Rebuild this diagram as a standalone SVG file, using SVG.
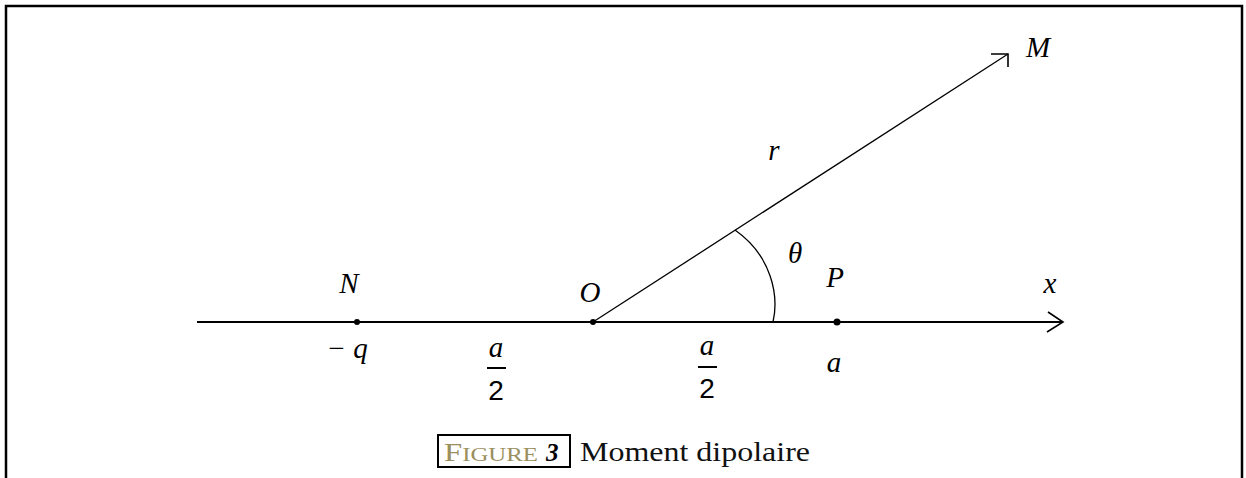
<svg xmlns="http://www.w3.org/2000/svg" width="1246" height="478" viewBox="0 0 1246 478">
<style>
.lbl{font-family:"Liberation Serif",serif;font-style:italic;font-size:29px;fill:#000;text-anchor:middle}
.num{font-family:"Liberation Sans",sans-serif;font-size:28px;fill:#000;text-anchor:middle}
.ln{stroke:#000;fill:none}
.cap{font-family:"Liberation Serif",serif;font-size:27px;fill:#111}
</style>
<rect x="0" y="0" width="1246" height="478" fill="#fff"/>
<path d="M6 480 V6 H1242 V480" class="ln" stroke-width="2.5"/>
<g id="connectors">
<line x1="197" y1="322" x2="1063" y2="322" class="ln" stroke-width="2"/>
<polyline points="1048,312 1063,322 1047,332" class="ln" stroke-width="1.6"/>
<line x1="593" y1="322" x2="1008" y2="54" class="ln" stroke-width="1.3"/>
<polyline points="991,54 1008,54 1008,67" class="ln" stroke-width="1.6"/>
<path d="M773 322 C779 296 772 256 735 230" class="ln" stroke-width="1.3"/>
</g>
<g id="N"><circle cx="357" cy="322" r="3"/><text x="349" y="293" class="lbl">N</text><text x="347" y="358" class="lbl">− q</text></g>
<g id="O"><circle cx="593" cy="322" r="3"/><text x="590" y="302" class="lbl">O</text></g>
<g id="P"><circle cx="837" cy="322" r="3.5"/><text x="835" y="287" class="lbl">P</text><text x="834" y="372" class="lbl">a</text></g>
<g id="M"><text x="1038" y="57" class="lbl">M</text></g>
<g id="r"><text x="774" y="160" class="lbl">r</text></g>
<g id="theta"><text x="795" y="263" class="lbl">θ</text></g>
<g id="x"><text x="1050" y="293" class="lbl">x</text></g>
<g id="half1"><text x="496" y="357" class="lbl" font-size="31">a</text><line x1="487" y1="368" x2="506" y2="368" class="ln" stroke-width="2"/><text x="496" y="400" class="num">2</text></g>
<g id="half2"><text x="707" y="355" class="lbl" font-size="31">a</text><line x1="698" y1="367" x2="717" y2="367" class="ln" stroke-width="2"/><text x="707" y="398" class="num">2</text></g>
<g id="caption">
<rect x="438" y="435" width="132" height="32" fill="none" stroke="#000" stroke-width="2"/>
<text x="444" y="461" font-family="'Liberation Serif',serif" fill="#9b8f5e" textLength="94" lengthAdjust="spacingAndGlyphs"><tspan font-size="25">F</tspan><tspan font-size="19">IGURE</tspan></text>
<text x="546" y="461" font-family="'Liberation Serif',serif" font-size="25" font-weight="bold" font-style="italic" fill="#000">3</text>
<text x="580" y="461" class="cap" textLength="230" lengthAdjust="spacingAndGlyphs">Moment dipolaire</text>
</g>
</svg>
